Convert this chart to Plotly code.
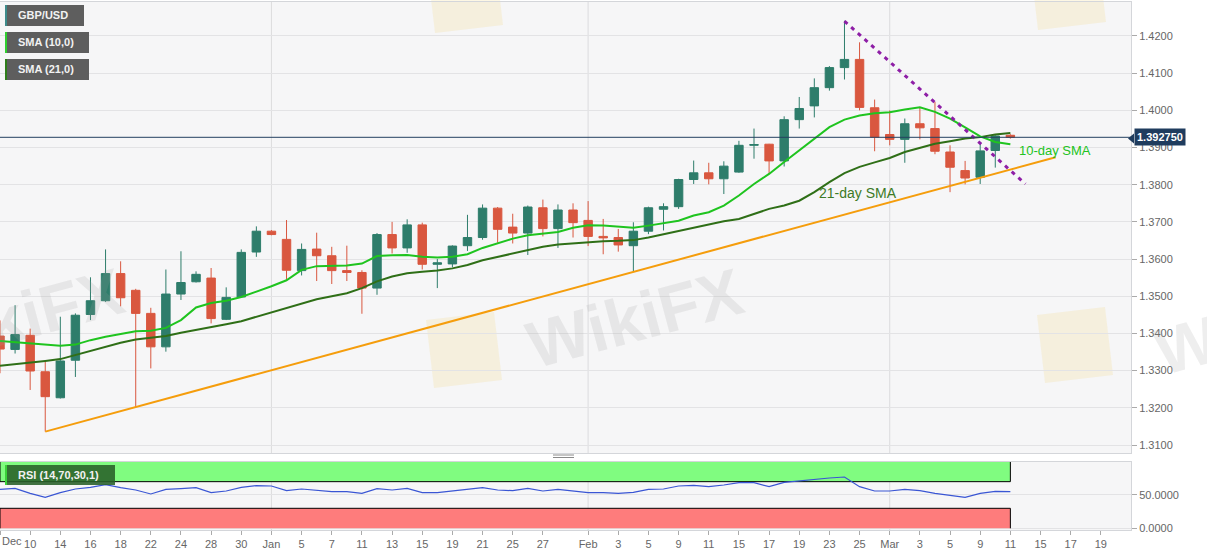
import pandas as pd
import plotly.graph_objects as go
from plotly.subplots import make_subplots

# GBP/USD daily candles, Dec 8 2020 - Mar 11 2021
dates = [
    "2020-12-08", "2020-12-09", "2020-12-10", "2020-12-11", "2020-12-14", "2020-12-15",
    "2020-12-16", "2020-12-17", "2020-12-18", "2020-12-21", "2020-12-22", "2020-12-23",
    "2020-12-24", "2020-12-25", "2020-12-28", "2020-12-29", "2020-12-30", "2020-12-31",
    "2021-01-01", "2021-01-04", "2021-01-05", "2021-01-06", "2021-01-07", "2021-01-08",
    "2021-01-11", "2021-01-12", "2021-01-13", "2021-01-14", "2021-01-15", "2021-01-18",
    "2021-01-19", "2021-01-20", "2021-01-21", "2021-01-22", "2021-01-25", "2021-01-26",
    "2021-01-27", "2021-01-28", "2021-01-29", "2021-02-01", "2021-02-02", "2021-02-03",
    "2021-02-04", "2021-02-05", "2021-02-08", "2021-02-09", "2021-02-10", "2021-02-11",
    "2021-02-12", "2021-02-15", "2021-02-16", "2021-02-17", "2021-02-18", "2021-02-19",
    "2021-02-22", "2021-02-23", "2021-02-24", "2021-02-25", "2021-02-26", "2021-03-01",
    "2021-03-02", "2021-03-03", "2021-03-04", "2021-03-05", "2021-03-08", "2021-03-09",
    "2021-03-10", "2021-03-11",
]
opens = [
    1.3393, 1.3357, 1.3395, 1.3297, 1.3227, 1.3328, 1.3451, 1.3488, 1.3561, 1.3516,
    1.3454, 1.3364, 1.3506, 1.3539, 1.3549, 1.3438, 1.3498, 1.3619, 1.3675, 1.3653,
    1.3569, 1.3627, 1.3609, 1.3569, 1.3564, 1.3522, 1.3666, 1.3630, 1.3692, 1.3586,
    1.3587, 1.3636, 1.3658, 1.3737, 1.3686, 1.3670, 1.3738, 1.3682, 1.3732, 1.3704,
    1.3661, 1.3658, 1.3636, 1.3675, 1.3734, 1.3741, 1.3814, 1.3832, 1.3816, 1.3834,
    1.3906, 1.3909, 1.3864, 1.3975, 1.4012, 1.4061, 1.4115, 1.4137, 1.4007, 1.3935,
    1.3922, 1.3964, 1.3951, 1.3888, 1.3838, 1.3820, 1.3892, 1.3933,
]
highs = [
    1.3435, 1.3476, 1.3413, 1.3324, 1.3445, 1.3454, 1.3551, 1.3626, 1.3594, 1.3520,
    1.3469, 1.3572, 1.3621, 1.3567, 1.3576, 1.3524, 1.3626, 1.3688, 1.3678, 1.3705,
    1.3642, 1.3671, 1.3633, 1.3636, 1.3570, 1.3670, 1.3700, 1.3707, 1.3698, 1.3600,
    1.3637, 1.3719, 1.3747, 1.3740, 1.3722, 1.3744, 1.3760, 1.3747, 1.3750, 1.3756,
    1.3708, 1.3681, 1.3699, 1.3741, 1.3750, 1.3816, 1.3865, 1.3859, 1.3863, 1.3918,
    1.3951, 1.3910, 1.3984, 1.4036, 1.4086, 1.4119, 1.4241, 1.4183, 1.4029, 1.4000,
    1.3978, 1.4008, 1.4023, 1.3906, 1.3864, 1.3912, 1.3933, 1.3936,
]
lows = [
    1.3293, 1.3346, 1.3248, 1.3136, 1.3225, 1.3283, 1.3436, 1.3485, 1.3473, 1.3201,
    1.3306, 1.3351, 1.3490, 1.3537, 1.3427, 1.3436, 1.3496, 1.3606, 1.3664, 1.3545,
    1.3556, 1.3541, 1.3533, 1.3541, 1.3453, 1.3504, 1.3615, 1.3617, 1.3572, 1.3522,
    1.3578, 1.3622, 1.3652, 1.3644, 1.3642, 1.3611, 1.3661, 1.3630, 1.3658, 1.3635,
    1.3613, 1.3620, 1.3567, 1.3667, 1.3677, 1.3735, 1.3802, 1.3801, 1.3775, 1.3832,
    1.3870, 1.3829, 1.3849, 1.3951, 1.3981, 1.4053, 1.4083, 1.4000, 1.3890, 1.3906,
    1.3859, 1.3922, 1.3882, 1.3780, 1.3801, 1.3802, 1.3846, 1.3924,
]
closes = [
    1.3358, 1.3397, 1.3299, 1.3230, 1.3326, 1.3449, 1.3488, 1.3561, 1.3496, 1.3454,
    1.3364, 1.3506, 1.3537, 1.3559, 1.3440, 1.3497, 1.3618, 1.3675, 1.3666, 1.3570,
    1.3626, 1.3609, 1.3569, 1.3564, 1.3522, 1.3666, 1.3630, 1.3692, 1.3586, 1.3590,
    1.3635, 1.3658, 1.3737, 1.3680, 1.3670, 1.3740, 1.3682, 1.3732, 1.3698, 1.3661,
    1.3657, 1.3638, 1.3675, 1.3738, 1.3741, 1.3814, 1.3832, 1.3816, 1.3850, 1.3906,
    1.3908, 1.3864, 1.3975, 1.4005, 1.4061, 1.4115, 1.4137, 1.4008, 1.3928, 1.3922,
    1.3964, 1.3953, 1.3890, 1.3847, 1.3818, 1.3891, 1.3931, 1.39275,
]
sma10 = [
    1.3380, 1.3377, 1.3373, 1.3369, 1.3367, 1.3370, 1.3382, 1.3391, 1.3398, 1.3406,
    1.3407, 1.3415, 1.3436, 1.3470, 1.3482, 1.3488, 1.3498, 1.3512, 1.3527, 1.3543,
    1.3571, 1.3581, 1.3582, 1.3583, 1.3588, 1.3608, 1.3610, 1.3611, 1.3606, 1.3604,
    1.3606, 1.3613, 1.3630, 1.3642, 1.3655, 1.3664, 1.3668, 1.3673, 1.3684, 1.3691,
    1.3690, 1.3687, 1.3684, 1.3690, 1.3696, 1.3703, 1.3717, 1.3726, 1.3744, 1.3771,
    1.3802, 1.3829, 1.3861, 1.3892, 1.3924, 1.3955, 1.3975, 1.3986, 1.3992, 1.3995,
    1.4002, 1.4008, 1.3996, 1.3978, 1.3954, 1.3930, 1.3915, 1.3909,
]
sma21 = [
    1.3313, 1.3317, 1.3322, 1.3326, 1.3331, 1.3342, 1.3355, 1.3364, 1.3375, 1.3384,
    1.3389, 1.3393, 1.3402, 1.3409, 1.3416, 1.3425, 1.3433, 1.3445, 1.3456, 1.3468,
    1.3482, 1.3492, 1.3500, 1.3508, 1.3522, 1.3540, 1.3553, 1.3562, 1.3566, 1.3569,
    1.3575, 1.3584, 1.3597, 1.3606, 1.3613, 1.3624, 1.3633, 1.3639, 1.3642, 1.3644,
    1.3648, 1.3649, 1.3651, 1.3658, 1.3667, 1.3676, 1.3685, 1.3694, 1.3702, 1.3708,
    1.3721, 1.3735, 1.3744, 1.3757, 1.3780, 1.3807, 1.3831, 1.3848, 1.3860, 1.3872,
    1.3888, 1.3900, 1.3910, 1.3917, 1.3924, 1.3928, 1.3935, 1.3939,
]
rsi = [
    58.5, 60.0, 52.5, 46.5, 53.5, 59.0, 61.5, 65.5, 61.0, 57.5,
    51.5, 58.5, 59.5, 61.0, 53.5, 56.0, 61.5, 64.0, 63.5, 56.5,
    59.0, 57.5, 55.0, 55.0, 52.5, 59.5, 57.5, 60.0, 53.5, 53.5,
    56.0, 57.5, 61.0, 57.5, 56.5, 60.0, 56.0, 58.5, 56.5, 53.5,
    53.5, 52.5, 54.0, 58.5, 59.0, 63.5, 64.5, 62.5, 65.0, 68.5,
    68.5, 62.5, 69.0, 71.5, 73.5, 75.5, 77.0, 62.5, 56.0, 56.0,
    58.5, 56.5, 52.5, 49.0, 46.5, 52.5, 55.5, 55.0,
]

# hand drawn trend lines
support_dates = ["2020-12-11", "2021-03-16"]
support_prices = [1.3136, 1.3874]
resist_dates = ["2021-02-24", "2021-03-12"]
resist_prices = [1.4240, 1.3802]
last_price = 1.39275

tick_dates = [
    "2020-12-08", "2020-12-10", "2020-12-14", "2020-12-16", "2020-12-18", "2020-12-22",
    "2020-12-24", "2020-12-28", "2020-12-30", "2021-01-01", "2021-01-05", "2021-01-07",
    "2021-01-11", "2021-01-13", "2021-01-15", "2021-01-19", "2021-01-21", "2021-01-25",
    "2021-01-27", "2021-02-01", "2021-02-03", "2021-02-05", "2021-02-09", "2021-02-11",
    "2021-02-15", "2021-02-17", "2021-02-19", "2021-02-23", "2021-02-25", "2021-03-01",
    "2021-03-03", "2021-03-05", "2021-03-09", "2021-03-11", "2021-03-15", "2021-03-17",
    "2021-03-19",
]
tick_text = [
    "Dec", "10", "14", "16", "18", "22", "24", "28", "30", "Jan", "5", "7", "11", "13",
    "15", "19", "21", "25", "27", "Feb", "3", "5", "9", "11", "15", "17", "19", "23",
    "25", "Mar", "3", "5", "9", "11", "15", "17", "19",
]
month_starts = ["2021-01-01", "2021-02-01", "2021-03-01"]

# candles sit at noon so weekend breaks don't clip monday bodies
noon = pd.Timedelta(hours=12)
def day(d):
    return pd.to_datetime(d) + noon

x = day(dates)
x_start = day("2020-12-08")
x_end = day("2021-03-23")

# pixel -> paper helpers (plot area is 1131 x 528, top at 2px)
PW, PH, BOTTOM = 1131, 528, 530
def px(v):
    return v / PW
def py(v):
    return (BOTTOM - v) / PH

FONT = "Liberation Sans, Arial, sans-serif"

fig = make_subplots(rows=2, cols=1, shared_xaxes=True)

fig.add_trace(go.Candlestick(
    x=x, open=opens, high=highs, low=lows, close=closes,
    increasing=dict(line=dict(color="#2e7d6b", width=1), fillcolor="#2e7d6b"),
    decreasing=dict(line=dict(color="#d9573f", width=1), fillcolor="#d9573f"),
    whiskerwidth=0, hoverinfo="skip",
), row=1, col=1)

fig.add_trace(go.Scatter(x=x, y=sma21, mode="lines",
                         line=dict(color="#2f6f17", width=2)), row=1, col=1)
fig.add_trace(go.Scatter(x=x, y=sma10, mode="lines",
                         line=dict(color="#1fc41f", width=2)), row=1, col=1)

fig.add_trace(go.Scatter(x=day(support_dates), y=support_prices, mode="lines",
                         line=dict(color="#f59d0c", width=2)), row=1, col=1)
fig.add_trace(go.Scatter(x=day(resist_dates), y=resist_prices, mode="lines",
                         line=dict(color="#8e1ea6", width=3, dash="4px,5px")), row=1, col=1)

fig.add_trace(go.Scatter(x=x, y=rsi, mode="lines",
                         line=dict(color="#3a56d4", width=1.2)), row=2, col=1)

shapes = []

# month separators
for m in month_starts:
    for yr in ["y domain", "y2 domain"]:
        shapes.append(dict(type="line", xref="x" if yr == "y domain" else "x2", yref=yr,
                           x0=day(m), x1=day(m), y0=0, y1=1,
                           line=dict(color="#dcdcde", width=1), layer="below"))

# RSI bands
shapes.append(dict(type="rect", xref="x2", yref="y2", x0=x_start, x1=x[-1], y0=70, y1=100,
                   fillcolor="#80fc80", line=dict(width=0), layer="between"))
shapes.append(dict(type="rect", xref="x2", yref="y2", x0=x_start, x1=x[-1], y0=0, y1=30,
                   fillcolor="#fe7c7c", line=dict(width=0), layer="between"))
for y0, y1 in [(70, 70), (30, 30)]:
    shapes.append(dict(type="line", xref="x2", yref="y2", x0=x_start, x1=x[-1], y0=y0, y1=y1,
                       line=dict(color="black", width=1), layer="between"))
for xx in [x_start, x[-1]]:
    for y0, y1 in [(70, 100), (0, 30)]:
        shapes.append(dict(type="line", xref="x2", yref="y2", x0=xx, x1=xx, y0=y0, y1=y1,
                           line=dict(color="black", width=1), layer="between"))

# last price line + tag arrow
shapes.append(dict(type="line", xref="paper", yref="y", x0=0, x1=1, y0=last_price, y1=last_price,
                   line=dict(color="#23405f", width=1)))
shapes.append(dict(type="path", xref="paper", yref="paper",
                   path=f"M {px(1128)},{py(138.5)} L {px(1134)},{py(133.5)} L {px(1134)},{py(143.5)} Z",
                   fillcolor="#1f3c5e", line=dict(width=0)))

# watermark logos (faint)
def square(cx, cy, h):
    pts = [(cx - h, cy - h + 8), (cx + h - 8, cy - h), (cx + h, cy + h - 8), (cx - h + 8, cy + h)]
    return "M " + " L ".join(f"{px(a)},{py(b)}" for a, b in pts) + " Z"
for cx, cy in [(464, 350), (1075, 345), (465, -5), (1068, -8)]:
    shapes.append(dict(type="path", xref="paper", yref="paper", path=square(cx, cy, 38),
                       fillcolor="rgba(246,214,120,0.20)", line=dict(width=0), layer="below"))

# legend chips
chips = [("GBP/USD", 5, 84, 5, 26, "#3d8b8b"),
         ("SMA (10,0)", 5, 89, 32, 53, "#2fcf2f"),
         ("SMA (21,0)", 5, 89, 59, 80, "#2e7d1a")]
annotations = []
for label, x0, x1, y0, y1, bar in chips:
    shapes.append(dict(type="rect", xref="paper", yref="paper", x0=px(x0), x1=px(x1),
                       y0=py(y1), y1=py(y0), fillcolor="#5e5e5e", line=dict(width=0)))
    shapes.append(dict(type="rect", xref="paper", yref="paper", x0=px(x0), x1=px(x0 + 2),
                       y0=py(y1), y1=py(y0), fillcolor=bar, line=dict(width=0)))
    annotations.append(dict(text=f"<b>{label}</b>", xref="paper", yref="paper",
                            x=px(16), y=py((y0 + y1) / 2), xanchor="left", yanchor="middle",
                            showarrow=False, font=dict(family=FONT, size=11, color="#f2f2f2")))

shapes.append(dict(type="rect", xref="paper", yref="paper", x0=px(5), x1=px(115),
                   y0=py(485), y1=py(465), fillcolor="rgba(40,96,40,0.88)", line=dict(width=0)))
shapes.append(dict(type="rect", xref="paper", yref="paper", x0=px(5), x1=px(7),
                   y0=py(485), y1=py(465), fillcolor="#3ad13a", line=dict(width=0)))
annotations.append(dict(text="<b>RSI (14,70,30,1)</b>", xref="paper", yref="paper",
                        x=px(16), y=py(475), xanchor="left", yanchor="middle", showarrow=False,
                        font=dict(family=FONT, size=11, color="#f2f2f2")))

# panel resize handle
for hy in [455, 457.5]:
    shapes.append(dict(type="line", xref="paper", yref="paper", x0=px(553), x1=px(574),
                       y0=py(hy), y1=py(hy), line=dict(color="#8a8a8a", width=1)))

# price tag
annotations.append(dict(text="<b>1.392750</b>", xref="paper", yref="y", x=px(1134), y=last_price,
                        xanchor="left", yanchor="middle", showarrow=False, bgcolor="#1f3c5e",
                        borderpad=2, font=dict(family=FONT, size=11, color="white")))

# SMA labels
annotations.append(dict(text="10-day SMA", xref="x", yref="y", x=day("2021-03-11") + pd.Timedelta(hours=10),
                        y=1.3891, xanchor="left", yanchor="middle", showarrow=False,
                        font=dict(family=FONT, size=13, color="#22c322")))
annotations.append(dict(text="21-day SMA", xref="x", yref="y", x=day("2021-02-22") + pd.Timedelta(hours=5),
                        y=1.3778, xanchor="left", yanchor="middle", showarrow=False,
                        font=dict(family=FONT, size=14, color="#3d7a26")))

# first tick label is pushed right of the edge
annotations.append(dict(text=tick_text[0], xref="paper", yref="paper", x=0, y=py(541),
                        xanchor="left", yanchor="middle", showarrow=False,
                        font=dict(family=FONT, size=11, color="#666")))

# watermark text
for cx, cy in [(635, 318), (1262, 325), (15, 318)]:
    annotations.append(dict(text="<b>WikiFX</b>", xref="paper", yref="paper", x=px(cx), y=py(cy),
                            xanchor="center", yanchor="middle", showarrow=False, textangle=-15,
                            font=dict(family=FONT, size=66, color="rgba(160,160,160,0.18)")))

axis_x = dict(range=[x_start, x_end], rangebreaks=[dict(bounds=["sat", "mon"])],
              showgrid=False, showline=True, mirror=True, linecolor="#d4d6da",
              zeroline=False, rangeslider=dict(visible=False))

fig.update_layout(
    width=1207, height=555,
    margin=dict(l=0, r=76, t=2, b=25),
    paper_bgcolor="white", plot_bgcolor="#f6f6f7",
    showlegend=False, boxgap=0.2,
    font=dict(family=FONT, size=11, color="#666"),
    xaxis=dict(axis_x, domain=[0, 1], showticklabels=False, ticks=""),
    xaxis2=dict(axis_x, domain=[0, 1], tickvals=day(tick_dates),
                ticktext=[""] + tick_text[1:], ticks="outside", ticklen=4, tickcolor="#aaa",
                tickfont=dict(size=11, color="#666")),
    yaxis=dict(domain=[py(453), 1], range=[1.30785, 1.42914], side="right",
               tick0=1.31, dtick=0.01, tickformat=".4f", gridcolor="#e3e3e5",
               ticks="outside", ticklen=5, tickcolor="#aaa", showline=True, mirror=True,
               linecolor="#d4d6da", zeroline=False, tickfont=dict(size=11, color="#666")),
    yaxis2=dict(domain=[0, py(462)], range=[-2.55, 99.5], side="right",
                tickvals=[0, 50], ticktext=["0.0000", "50.0000"], gridcolor="#e3e3e5",
                ticks="outside", ticklen=5, tickcolor="#aaa", showline=True, mirror=True,
                linecolor="#d4d6da", zeroline=False, tickfont=dict(size=11, color="#666")),
    shapes=shapes,
    annotations=annotations,
)

# the page body has a default 8px margin; drop it so the figure sits at the corner
fig.write_html("out.html", config={"displayModeBar": False},
               post_script="document.body.style.margin = '0px';")
